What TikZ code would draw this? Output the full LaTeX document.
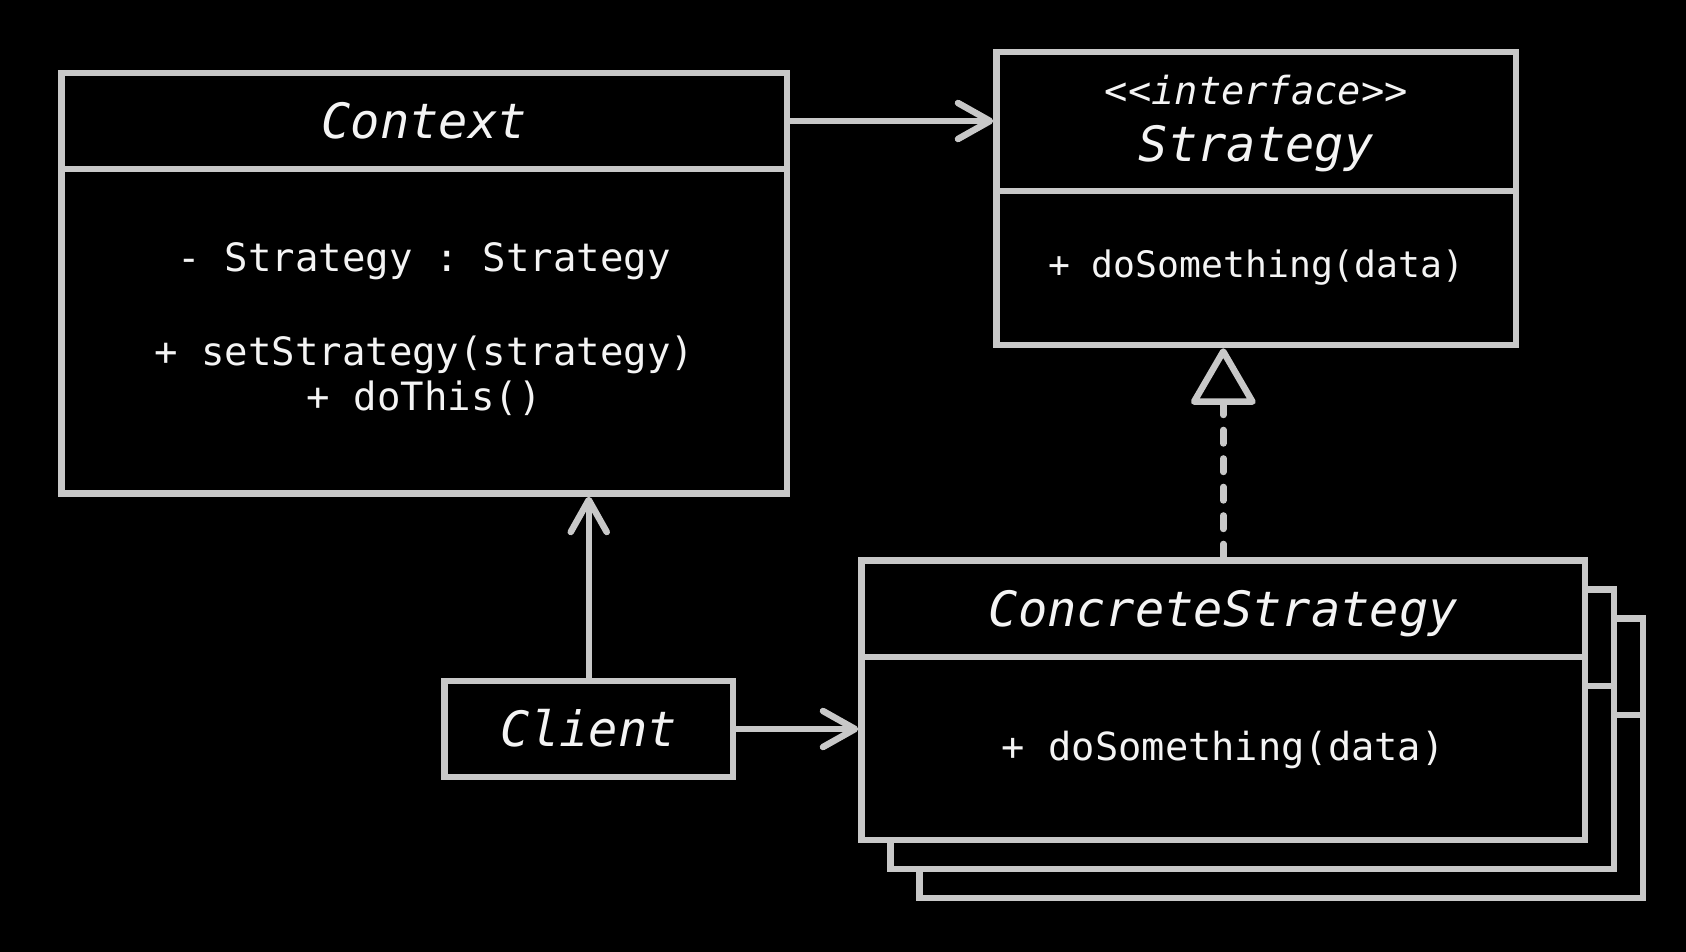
\documentclass[tikz,border=0pt]{standalone}
\usepackage{fontspec}
\setmonofont{DejaVu Sans Mono}
\usetikzlibrary{arrows.meta}
\definecolor{umlline}{RGB}{200,200,200}
\definecolor{umltext}{RGB}{244,244,244}
\begin{document}
\begin{tikzpicture}[x=1pt,y=-1pt,
  box/.style={draw=umlline, fill=black, line width=6.5pt, rectangle,
    inner sep=0pt, line join=miter},
  classname/.style={text=umltext, anchor=base, inner sep=0pt,
    font=\ttfamily\itshape\fontsize{48.7pt}{58pt}\selectfont},
  stereo/.style={text=umltext, anchor=base, inner sep=0pt,
    font=\ttfamily\itshape\fontsize{38.7pt}{46pt}\selectfont},
  member/.style={text=umltext, anchor=base, inner sep=0pt,
    font=\ttfamily\fontsize{39pt}{46pt}\selectfont},
  assoc/.style={draw=umlline, line width=6.5pt,
    -{Straight Barb[length=32pt,width=36pt,round]}},
  realize/.style={draw=umlline, line width=6.5pt, line cap=round,
    dash pattern=on 13.5pt off 15pt,
    -{Triangle[open,length=60pt,width=68pt,round]}},
]
% page background
\fill[black] (0,0) rectangle (1686,952);

% Context class
\node[box, minimum width=725.5pt, minimum height=96pt]   (ctxhead) at (424.25,121)    {};
\node[box, minimum width=725.5pt, minimum height=324.5pt] (ctxbody) at (424.25,331.25) {};
\node[classname] (ctxname) at (424.25,138.5) {Context};
\node[member] (ctxfield) at (424.25,271.7) {- Strategy : Strategy};
\node[member] (ctxset)   at (424.25,365)   {+ setStrategy(strategy)};
\node[member] (ctxdo)    at (424.25,410)   {+ doThis()};

% Strategy interface
\node[box, minimum width=519.5pt, minimum height=139pt] (strhead) at (1256.25,121.5) {};
\node[box, minimum width=519.5pt, minimum height=154pt] (strbody) at (1256.25,268)   {};
\node[stereo]    (strstereo) at (1256.25,105)   {<<interface>>};
\node[classname] (strname)   at (1256.25,161.7) {Strategy};
\node[member, font=\ttfamily\fontsize{36.4pt}{44pt}\selectfont]
  (strop) at (1256.25,277.3) {+ doSomething(data)};

% stacked ConcreteStrategy cards, back to front
\foreach \k/\d in {3/58,2/29} {
  \node[box, minimum width=723.5pt, minimum height=96.3pt]
    (cs\k head) at (1223.25+\d,608.85+\d) {};
  \node[box, minimum width=723.5pt, minimum height=183pt]
    (cs\k body) at (1223.25+\d,748.5+\d) {};
}
\node[box, minimum width=723.5pt, minimum height=96.3pt] (cshead) at (1223.25,608.85) {};
\node[box, minimum width=723.5pt, minimum height=183pt]  (csbody) at (1223.25,748.5)  {};
\node[classname] (csname) at (1223.25,626) {ConcreteStrategy};
\node[member, font=\ttfamily\fontsize{38.7pt}{46pt}\selectfont]
  (csop) at (1223.25,760) {+ doSomething(data)};

% Client
\node[box, minimum width=288.5pt, minimum height=96pt] (client) at (588.75,729) {};
\node[classname] (clientname) at (588.75,746) {Client};

% relations
\draw[assoc] (ctxhead.east) -- (ctxhead.east -| strhead.west);
\draw[assoc] (client.north) -- (client.north |- ctxbody.south);
\draw[assoc] (client.east) -- (client.east -| csbody.west);
\draw[realize] (cshead.north) -- (cshead.north |- strbody.south);
\end{tikzpicture}
\end{document}
